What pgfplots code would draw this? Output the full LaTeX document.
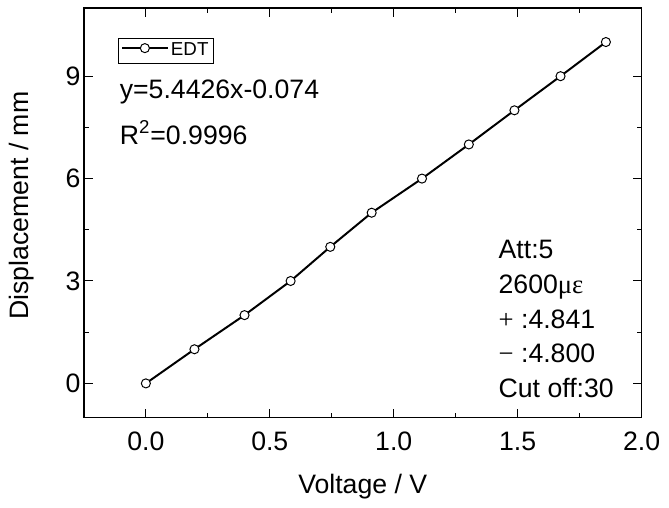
\documentclass[border=0pt]{standalone}
\usepackage{fontspec}
\setmainfont{Liberation Sans}
\newfontfamily\symfont{Liberation Serif}
\usepackage{pgfplots}
\pgfplotsset{compat=1.18}

\pgfplotstableread{
V     D
0.000 0
0.196 1
0.398 2
0.584 3
0.744 4
0.911 5
1.114 6
1.303 7
1.487 8
1.673 9
1.856 10
}\edtdata

\begin{document}
\fontsize{13.5}{16.2}\selectfont
\begin{tikzpicture}
\path (-42.5pt,-43pt) rectangle (292pt,211.5pt);
\begin{axis}[
    at={(0,0)}, anchor=south west,
    scale only axis,
    width=282.5pt, height=207.5pt,
    xmin=-0.25, xmax=2.0,
    ymin=-1, ymax=11,
    xtick={0,0.5,1,1.5,2},
    ytick={0,3,6,9},
    minor x tick num=1,
    minor y tick num=1,
    tick align=inside,
    major tick length=4.5pt,
    minor tick length=2.5pt,
    every tick/.style={black, line width=0.5pt},
    axis line style={line width=0.75pt},
    /pgf/number format/assume math mode=true,
    xticklabel style={yshift=-2.5pt, /pgf/number format/fixed, /pgf/number format/fixed zerofill, /pgf/number format/precision=1},
    yticklabel style={xshift=3pt},
    xlabel={Voltage / V},
    ylabel={Displacement / mm},
    every axis x label/.style={at={(axis description cs:0.5,-0.1687)}, anchor=center},
    every axis y label/.style={at={(axis description cs:-0.1115,0.517)}, anchor=center, rotate=90},
    legend style={at={(axis description cs:0.0607,0.927)}, anchor=north west,
        draw=black, line width=0.5pt, font=\fontsize{9.5}{10}\selectfont,
        inner xsep=1.5pt, inner ysep=1pt,
        nodes={inner sep=1.2pt}},
    legend image code/.code={
        \draw[mark repeat=2, mark phase=2, #1] plot coordinates {(0pt,1.5pt) (11.5pt,1.5pt) (23pt,1.5pt)};
    },
]
\addplot[black, line width=1pt, mark=*, mark size=2.3pt,
    mark options={fill=white, draw=black, line width=0.5pt}] table[x=V, y=D] {\edtdata};
\addlegendentry{EDT}

\node[anchor=base west, inner sep=0pt] at (axis description cs:0.0637,0.778) {y=5.4426x-0.074};
\node[anchor=base west, inner sep=0pt] at (axis description cs:0.0637,0.667) {R\textsuperscript{2}=0.9996};

\node[anchor=base west, inner sep=0pt] at (axis description cs:0.743,0.388) {Att:5};
\node[anchor=base west, inner sep=0pt] at (axis description cs:0.743,0.303) {2600{\symfont με}};
\node[anchor=base west, inner sep=0pt] at (axis description cs:0.743,0.2176) {{\symfont +} :4.841};
\node[anchor=base west, inner sep=0pt] at (axis description cs:0.743,0.134) {{\symfont −} :4.800};
\node[anchor=base west, inner sep=0pt] at (axis description cs:0.743,0.049) {Cut off:30};
\end{axis}
\end{tikzpicture}
\end{document}
